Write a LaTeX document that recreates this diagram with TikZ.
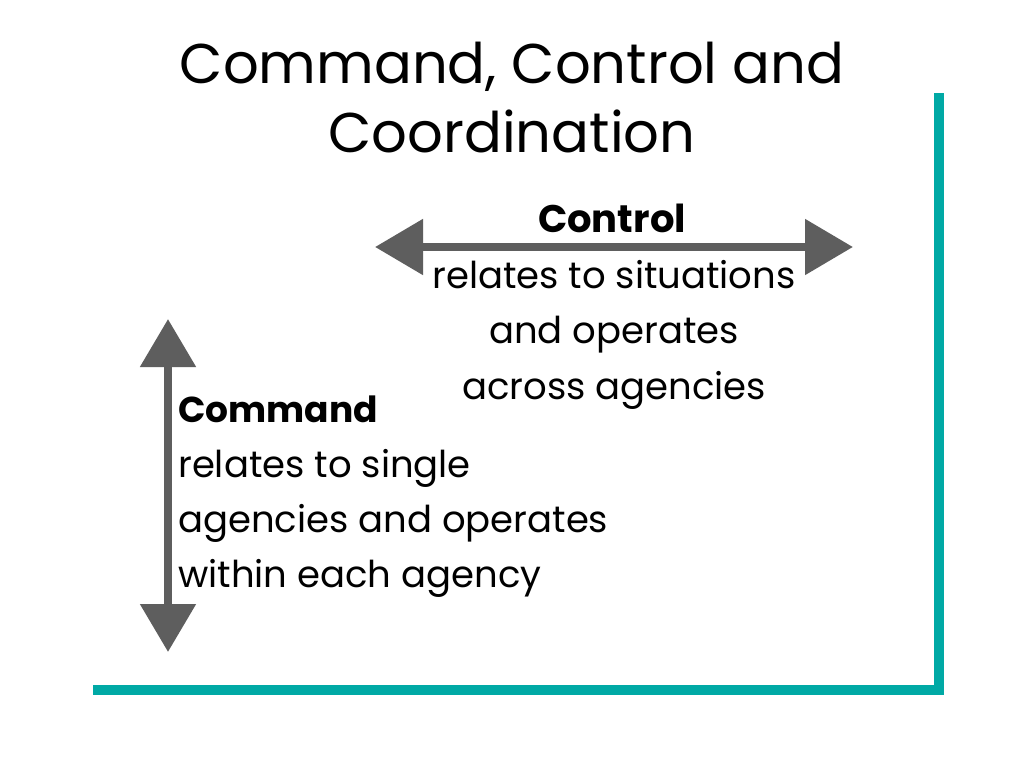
\documentclass[tikz,border=0pt]{standalone}
\usepackage{fontspec}
\setmainfont{Poppins}
\usetikzlibrary{arrows.meta}
\definecolor{teal}{HTML}{00A9A5}
\definecolor{arrowgray}{HTML}{5E5E5E}
\tikzset{
  frame/.style={draw=teal,line width=10pt,line join=miter},
  dblarrow/.style={draw=arrowgray,line width=8.5pt,
    {Triangle[length=48pt,width=54pt]}-{Triangle[length=48pt,width=54pt]}},
  titletext/.style={inner sep=0pt,anchor=base,font=\fontsize{56}{66}\selectfont},
  bodyc/.style={inner sep=0pt,anchor=base,font=\fontsize{37}{44}\selectfont},
  bodyl/.style={inner sep=0pt,anchor=base west,font=\fontsize{37}{44}\selectfont},
  headc/.style={inner sep=0pt,anchor=base,font=\bfseries\fontsize{38.5}{44}\selectfont},
  headl/.style={inner sep=0pt,anchor=base west,font=\bfseries\fontsize{36}{44}\selectfont},
}
\begin{document}
\begin{tikzpicture}[x=1pt,y=-1pt]
\useasboundingbox[fill=white] (0,0) rectangle (1024,768);
% title
\node[titletext] (t1) at (512,83) {Command, Control and};
\node[titletext] (t2) at (512,152) {Coordination};
% frame
\coordinate (ftop) at (939,93);
\coordinate (fcorner) at (939,690);
\coordinate (fleft) at (93,690);
\draw[frame] (ftop) -- (fcorner) -- (fleft);
% control arrow
\coordinate (cl) at (375,247);
\coordinate (cr) at (853,247);
\draw[dblarrow] (cl) -- (cr);
\node[headc] (ctl) at (612,232) {Control};
\node[bodyc] (c1) at (614,288) {relates to situations};
\node[bodyc] (c2) at (614,343) {and operates};
\node[bodyc] (c3) at (614,399) {across agencies};
% command arrow
\coordinate (vt) at (168,319);
\coordinate (vb) at (168,652);
\draw[dblarrow] (vt) -- (vb);
\node[headl] (cmd) at (178,422) {Command};
\node[bodyl] (m1) at (178,477) {relates to single};
\node[bodyl] (m2) at (178,532) {agencies and operates};
\node[bodyl] (m3) at (178,587) {within each agency};
\end{tikzpicture}
\end{document}
